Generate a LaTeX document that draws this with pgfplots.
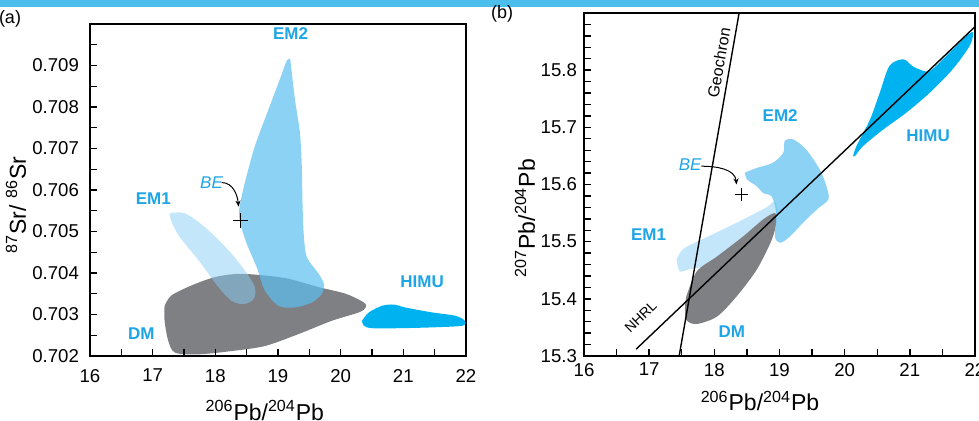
\documentclass[border=0pt]{standalone}
\usepackage{pgfplots}
\pgfplotsset{compat=1.18}
\usepackage{fontspec}
\setmainfont{Liberation Sans}
\usetikzlibrary{arrows.meta}
\definecolor{emone}{RGB}{135,205,245}
\definecolor{emtwo}{RGB}{91,191,241}
\definecolor{dmgray}{RGB}{126,128,132}
\definecolor{himu}{RGB}{0,178,240}
\definecolor{labblue}{RGB}{30,165,230}
\definecolor{band}{RGB}{75,190,235}
\pgfplotsset{
  common/.style={
    scale only axis, anchor=south west, clip=false,
    xmin=16, xmax=22,
    xtick={16,17,...,22}, minor x tick num=1,
    tick align=inside, xtick pos=bottom, ytick pos=left,
    major tick length=3.5pt, minor tick length=3.5pt,
    axis line style={line width=0.8pt},
    xtick style={draw=black, line width=0.7pt},
    ytick style={draw=black, line width=0.7pt},
    /pgf/number format/assume math mode=true,
    ticklabel style={font=\fontsize{9.3}{10}\selectfont},
    scaled y ticks=false,
  },
}
\tikzset{
  lab/.style={text=labblue, font=\bfseries\fontsize{8.5}{10}\selectfont},
  belab/.style={text=labblue, font=\itshape\fontsize{8.5}{10}\selectfont},
  tk/.style={draw=black, line width=0.7pt},
}
\begin{document}
\begin{tikzpicture}
\fill[band] (0,206.5pt) rectangle (489.5pt,212pt);
% ---------------- panel (a)
\begin{axis}[common, at={(45pt,32pt)}, width=188pt, height=166pt,
  ymin=0.702, ymax=0.710,
  ytick={0.702,0.703,0.704,0.705,0.706,0.707,0.708,0.709},
  minor ytick={0.7025,0.7035,0.7045,0.7055,0.7065,0.7075,0.7085,0.7095},
  yticklabel style={/tikz/xshift=-2pt, /pgf/number format/.cd, fixed, fixed zerofill, precision=3},
  xticklabel style={yshift=-3pt},
  ]
\addplot[fill=dmgray, draw=none, smooth, tension=0.5] coordinates {
(17.19,0.70321)(17.30,0.70346)(17.62,0.70370)(17.99,0.70390)(18.37,0.70398)(18.79,0.70394)(19.17,0.70386)(19.65,0.70366)(20.08,0.70350)(20.37,0.70329)(20.40,0.70317)(20.29,0.70305)(19.86,0.70285)(19.33,0.70253)(18.79,0.70224)(18.26,0.70212)(17.73,0.70204)(17.36,0.70208)(17.25,0.70236)(17.19,0.70285)(17.19,0.70321)} -- cycle;
\addplot[fill=emone, fill opacity=0.5, draw=none, smooth, tension=0.5] coordinates {
(17.27,0.70544)(17.51,0.70544)(17.83,0.70511)(18.21,0.70455)(18.47,0.70406)(18.63,0.70366)(18.61,0.70337)(18.45,0.70325)(18.26,0.70333)(18.05,0.70366)(17.73,0.70431)(17.43,0.70487)(17.30,0.70524)(17.27,0.70544)} -- cycle;
\addplot[fill=emtwo, fill opacity=0.7, draw=none, smooth, tension=0.5] coordinates {
(19.195,0.70916)(19.27,0.70819)(19.35,0.70738)(19.38,0.70657)(19.39,0.70576)(19.41,0.70495)(19.46,0.70439)(19.65,0.70398)(19.73,0.70374)(19.70,0.70350)(19.54,0.70329)(19.27,0.70317)(19.01,0.70321)(18.79,0.70358)(18.66,0.70414)(18.50,0.70471)(18.40,0.70519)(18.38,0.70552)(18.47,0.70617)(18.63,0.70705)(18.85,0.70795)(19.03,0.70867)(19.14,0.70912)(19.195,0.70916)} -- cycle;
\addplot[fill=himu, draw=none, smooth, tension=0.5] coordinates {
(20.34,0.70285)(20.45,0.70305)(20.66,0.70321)(20.85,0.70324)(21.03,0.70317)(21.46,0.70305)(21.83,0.70297)(21.98,0.70285)(21.94,0.70273)(21.46,0.70269)(20.93,0.70267)(20.50,0.70267)(20.37,0.70273)(20.34,0.70285)} -- cycle;
\addplot[only marks, mark=+, mark size=3.6pt, black, mark options={line width=0.6pt}] coordinates {(18.40,0.70527)};
\draw[-{Stealth[length=3pt,width=2.5pt]}, line width=0.5pt] (axis cs:18.10,0.70618) to[out=0,in=95] (axis cs:18.37,0.70560);
\pgfplotsinvokeforeach{16.5,17,17.5,18,18.5,19,19.5,20,20.5,21,21.5}{\draw[tk] (axis cs:#1,0.702) -- ([yshift=3.5pt]axis cs:#1,0.702);}
\pgfplotsinvokeforeach{0.7025,0.703,0.7035,0.704,0.7045,0.705,0.7055,0.706,0.7065,0.707,0.7075,0.708,0.7085,0.709,0.7095}{\draw[tk] (axis cs:16,#1) -- ([xshift=3.5pt]axis cs:16,#1);}
\node[lab] at (axis cs:19.2,0.70977) {EM2};
\node[lab] at (axis cs:17.01,0.70578) {EM1};
\node[lab] at (axis cs:16.82,0.70253) {DM};
\node[lab] at (axis cs:21.30,0.70378) {HIMU};
\node[belab] at (axis cs:17.94,0.70618) {BE};
\node[font=\fontsize{11.5}{12}\selectfont, rotate=90] at (axis description cs:-0.197,0.455) {\textsuperscript{87}Sr/ \textsuperscript{86}Sr};
\node[font=\fontsize{11.5}{12}\selectfont] at (axis description cs:0.465,-0.165) {\textsuperscript{206}Pb/\textsuperscript{204}Pb};
\end{axis}
% ---------------- panel (b)
\begin{axis}[common, at={(292pt,32pt)}, width=195.5pt, height=171.5pt,
  ymin=15.3, ymax=15.9,
  ytick={15.3,15.4,15.5,15.6,15.7,15.8}, minor y tick num=4,
  yticklabel style={/pgf/number format/.cd, fixed, fixed zerofill, precision=1},
  ]
\addplot[fill=emone, fill opacity=0.5, draw=none, smooth, tension=0.5] coordinates {
(17.42,15.468)(17.52,15.487)(17.83,15.505)(18.34,15.533)(18.80,15.560)(18.92,15.570)(18.95,15.545)(18.50,15.490)(18.00,15.460)(17.63,15.452)(17.47,15.448)(17.42,15.468)} -- cycle;
\addplot[fill=dmgray, draw=none, smooth, tension=0.5] coordinates {
(17.57,15.404)(17.73,15.448)(18.04,15.474)(18.44,15.509)(18.75,15.539)(18.93,15.550)(18.95,15.533)(18.88,15.503)(18.65,15.451)(18.34,15.404)(18.04,15.369)(17.73,15.356)(17.57,15.363)(17.55,15.386)(17.57,15.404)} -- cycle;
\addplot[fill=emtwo, fill opacity=0.7, draw=none, smooth, tension=0.5] coordinates {
(18.47,15.621)(18.65,15.629)(18.90,15.638)(19.06,15.656)(19.08,15.676)(19.21,15.679)(19.41,15.661)(19.62,15.626)(19.72,15.597)(19.75,15.574)(19.57,15.556)(19.36,15.533)(19.16,15.509)(19.01,15.498)(18.93,15.509)(18.95,15.550)(18.88,15.579)(18.75,15.585)(18.65,15.597)(18.50,15.609)(18.47,15.621)} -- cycle;
\addplot[fill=himu, draw=none, smooth, tension=0.5] coordinates {
(20.13,15.650)(20.18,15.667)(20.39,15.714)(20.54,15.761)(20.69,15.808)(20.90,15.819)(21.03,15.808)(21.13,15.802)(21.31,15.799)(21.61,15.831)(21.87,15.860)(21.97,15.866)(21.92,15.843)(21.66,15.802)(21.31,15.761)(20.95,15.726)(20.59,15.696)(20.28,15.667)(20.16,15.650)(20.13,15.650)} -- cycle;
\addplot[black, line width=0.7pt] coordinates {(16.8,15.312)(22,15.876)};
\addplot[black, line width=0.7pt] coordinates {(17.46,15.30)(18.38,15.90)};
\addplot[only marks, mark=+, mark size=3.3pt, black, mark options={line width=0.6pt}] coordinates {(18.42,15.582)};
\draw[-{Stealth[length=3pt,width=2.5pt]}, line width=0.5pt] (axis cs:17.80,15.632) to[out=0,in=95] (axis cs:18.34,15.600);
\pgfplotsinvokeforeach{16.5,17,17.5,18,18.5,19,19.5,20,20.5,21,21.5}{\draw[tk] (axis cs:#1,15.3) -- ([yshift=3.5pt]axis cs:#1,15.3);}
\pgfplotsinvokeforeach{15.32,15.34,15.36,15.38,15.4,15.42,15.44,15.46,15.48,15.5,15.52,15.54,15.56,15.58,15.6,15.62,15.64,15.66,15.68,15.7,15.72,15.74,15.76,15.78,15.8,15.82,15.84,15.86,15.88}{\draw[tk] (axis cs:16,#1) -- ([xshift=3.5pt]axis cs:16,#1);}
\node[lab] at (axis cs:19.01,15.72) {EM2};
\node[lab] at (axis cs:16.99,15.512) {EM1};
\node[lab] at (axis cs:18.27,15.343) {DM};
\node[lab] at (axis cs:21.28,15.685) {HIMU};
\node[belab] at (axis cs:17.63,15.635) {BE};
\node[font=\fontsize{8}{9}\selectfont, rotate=80] at (axis cs:18.07,15.813) {Geochron};
\node[font=\fontsize{7}{8}\selectfont, rotate=44] at (axis cs:16.87,15.368) {NHRL};
\node[font=\fontsize{11.5}{12}\selectfont, rotate=90] at (axis description cs:-0.151,0.402) {\textsuperscript{207}Pb/\textsuperscript{204}Pb};
\node[font=\fontsize{11.5}{12}\selectfont] at (axis description cs:0.45,-0.131) {\textsuperscript{206}Pb/\textsuperscript{204}Pb};
\end{axis}
\node[font=\fontsize{9}{10}\selectfont] at (5pt,200.5pt) {(a)};
\node[font=\fontsize{9}{10}\selectfont] at (251pt,203pt) {(b)};
\pgfresetboundingbox
\useasboundingbox (0,0) rectangle (489.5pt,210pt);
\end{tikzpicture}
\end{document}
